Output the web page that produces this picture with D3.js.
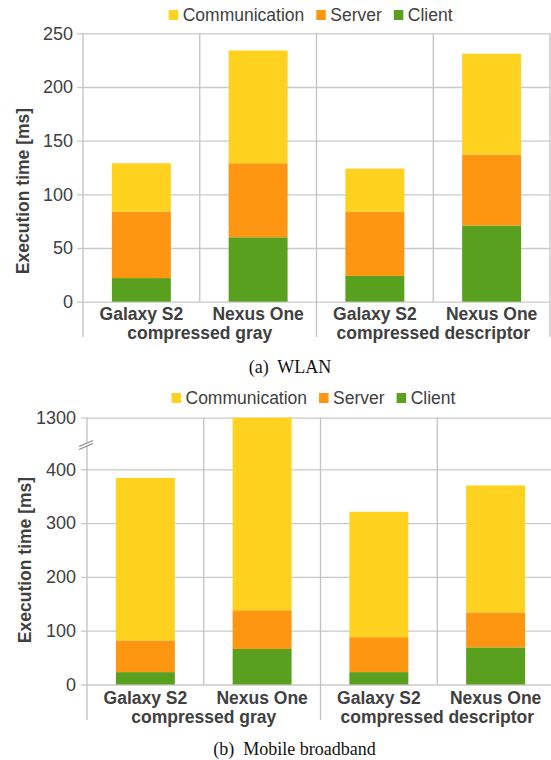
<!DOCTYPE html>
<html>
<head>
<meta charset="utf-8">
<script src="https://cdn.jsdelivr.net/npm/d3@7"></script>
<style>
  body { margin: 0; background: #fff; }
  text { font-family: "Liberation Sans", Arial, sans-serif; fill: #404040; }
  .caption { font-family: "Liberation Serif", "Times New Roman", serif; fill: #111; white-space: pre; }
</style>
</head>
<body>
<svg id="chart" width="551" height="760"></svg>
<script>
// legend order, stack order is the reverse
var seriesNames = ["Communication", "Server", "Client"];
var seriesColors = ["#ffd21f", "#ff9612", "#58a01e"];

var devices = ["Galaxy S2", "Nexus One", "Galaxy S2", "Nexus One"];
var formats = ["compressed gray", "compressed descriptor"];

// (a) WLAN, ms
var wlanClient = [22, 60, 24, 71];
var wlanServer = [62, 69, 60, 66];
var wlanComm   = [45, 105, 40, 94];
var wlanTicks  = [0, 50, 100, 150, 200, 250];

// (b) Mobile broadband, ms (axis is broken between 400 and 1300)
var mobileClient = [23, 66, 23, 69];
var mobileServer = [59, 72, 65, 65];
var mobileComm   = [302, 1162, 233, 236];
var mobileTicks  = [0, 100, 200, 300, 400, 1300];

var svg = d3.select("#chart");

function drawPanel(opt) {
    var g = svg.append("g");
    var x = d3.scaleBand()
        .domain(d3.range(devices.length))
        .range([opt.left, opt.right]);
    var y = d3.scaleLinear()
        .domain(opt.domain)
        .range(opt.range)
        .clamp(true);
    var top = y(opt.domain[opt.domain.length - 1]),
        zero = y(0),
        bw = x.bandwidth();

    // horizontal gridlines
    g.append("g")
      .attr("transform", "translate(" + opt.left + ",0)")
      .call(d3.axisLeft(y).tickValues(opt.ticks).tickSize(-(opt.right - opt.left)).tickFormat(""))
      .call(s => s.select(".domain").remove())
      .call(s => s.selectAll("line").attr("stroke", "#cacaca").attr("stroke-width", 1.3));

    // tick marks + labels
    g.append("g")
      .attr("transform", "translate(" + opt.left + ",0)")
      .call(d3.axisLeft(y).tickValues(opt.ticks).tickSize(6).tickPadding(opt.pad).tickFormat(d3.format("d")))
      .call(s => s.select(".domain").remove())
      .call(s => s.selectAll("line").attr("stroke", "#cacaca").attr("stroke-width", 1.3))
      .call(s => s.selectAll("text").attr("font-size", 18).attr("fill", "#404040")
                    .attr("font-family", "Liberation Sans, Arial, sans-serif"));

    // vertical separators; group borders run down past the labels
    for (var i = 0; i <= devices.length; i++) {
        var xx = opt.left + i * bw;
        g.append("line")
          .attr("x1", xx).attr("x2", xx)
          .attr("y1", top)
          .attr("y2", i % 2 == 0 ? opt.lineBottom : zero)
          .attr("stroke", "#c2c2c2")
          .attr("stroke-width", 1.3);
    }

    // stacked bars
    var rows = devices.map(function(d, i) {
        return {Client: opt.client[i], Server: opt.server[i], Communication: opt.comm[i]};
    });
    var stacked = d3.stack().keys(["Client", "Server", "Communication"])(rows);
    var barW = bw * 0.505;
    g.selectAll("g.layer")
      .data(stacked)
      .enter().append("g")
      .attr("class", "layer")
      .attr("fill", function(d) { return seriesColors[seriesNames.indexOf(d.key)]; })
      .selectAll("rect")
      .data(function(d) { return d; })
      .enter().append("rect")
      .attr("x", function(d, i) { return x(i) + (bw - barW) / 2; })
      .attr("width", barW)
      .attr("y", function(d) { return y(d[1]); })
      .attr("height", function(d) { return y(d[0]) - y(d[1]); });

    // category labels
    g.selectAll("text.dev")
      .data(devices)
      .enter().append("text")
      .attr("class", "dev")
      .attr("x", function(d, i) { return x(i) + bw / 2; })
      .attr("y", opt.labelY1)
      .attr("text-anchor", "middle")
      .attr("font-size", 17.5)
      .attr("font-weight", "bold")
      .text(function(d) { return d; });
    g.selectAll("text.fmt")
      .data(formats)
      .enter().append("text")
      .attr("class", "fmt")
      .attr("x", function(d, i) { return opt.left + (2 * i + 1) * bw; })
      .attr("y", opt.labelY2)
      .attr("text-anchor", "middle")
      .attr("font-size", 17.5)
      .attr("font-weight", "bold")
      .text(function(d) { return d; });

    // y title
    g.append("text")
      .attr("transform", "translate(" + opt.titleX + "," + opt.titleY + ") rotate(-90)")
      .attr("text-anchor", "middle")
      .attr("font-size", 17.5)
      .attr("font-weight", "bold")
      .text("Execution time [ms]");

    // legend
    var lx = opt.legendX;
    seriesNames.forEach(function(name, i) {
        g.append("rect")
          .attr("x", lx).attr("y", opt.legendY - 11)
          .attr("width", 9.5).attr("height", 10)
          .attr("fill", seriesColors[i]);
        var t = g.append("text")
          .attr("x", lx + 14).attr("y", opt.legendY)
          .attr("font-size", 17.5)
          .text(name);
        lx += 14 + t.node().getComputedTextLength() + 12;
    });

    // caption
    g.append("text")
      .attr("class", "caption")
      .attr("x", opt.captionX).attr("y", opt.captionY)
      .attr("text-anchor", "middle")
      .attr("font-size", 18)
      .text(opt.caption);

    return {g: g, x: x, y: y};
}

drawPanel({
    client: wlanClient, server: wlanServer, comm: wlanComm, ticks: wlanTicks,
    domain: [0, 250], range: [301.7, 33.3],
    left: 83, right: 550, pad: 4, lineBottom: 337,
    labelY1: 320, labelY2: 338.5,
    titleX: 28.5, titleY: 191,
    legendX: 168.7, legendY: 21,
    caption: "(a)  WLAN", captionX: 290, captionY: 373
});

var mob = drawPanel({
    client: mobileClient, server: mobileServer, comm: mobileComm, ticks: mobileTicks,
    domain: [0, 400, 1300], range: [684.5, 469.3, 417.6],
    left: 87, right: 554, pad: 5, lineBottom: 720,
    labelY1: 704, labelY2: 722.5,
    titleX: 30.5, titleY: 560,
    legendX: 171.5, legendY: 404,
    caption: "(b)  Mobile broadband", captionX: 294.5, captionY: 755
});

// axis break marker between 400 and 1300
var by = (mob.y(400) + mob.y(1300)) / 2 + 1.5;
mob.g.append("path")
  .attr("d", "M79," + (by + 4.5) + "L93," + (by - 1.5) + "L93," + (by - 4.5) + "L79," + (by + 1.5) + "Z")
  .attr("fill", "#fff");
[1.5, -1.5].forEach(function(o) {
    mob.g.append("line")
      .attr("x1", 79).attr("y1", by + 3 + o)
      .attr("x2", 93).attr("y2", by - 3 + o)
      .attr("stroke", "#8a8a8a").attr("stroke-width", 1.2);
});
</script>
</body>
</html>
